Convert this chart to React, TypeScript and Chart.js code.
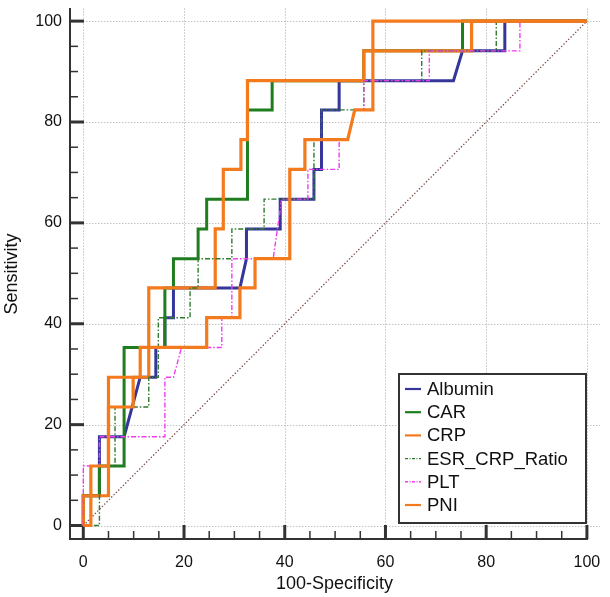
import { useEffect, useRef } from 'react';
import { Chart, registerables } from 'chart.js';

Chart.register(...registerables);

// ROC curves: 100-Specificity (x) against Sensitivity (y)
const seriesNames = ['Albumin', 'CAR', 'CRP', 'ESR_CRP_Ratio', 'PLT', 'PNI'];

const albuminX = [0, 0, 3.2, 3.2, 8.1, 11.3, 14.4, 14.4, 16.2, 16.2, 17.9, 17.9, 31.1, 32.4, 32.4, 39.1, 39.1, 45.8, 45.8, 47.3, 47.3, 50.8, 50.8, 73.5, 75.3, 83.7, 83.7, 100];
const albuminY = [0, 5.9, 5.9, 17.6, 17.6, 29.4, 29.4, 35.3, 35.3, 41.2, 41.2, 47.1, 47.1, 52.9, 58.8, 58.8, 64.7, 64.7, 70.6, 70.6, 82.4, 82.4, 88.2, 88.2, 94.1, 94.1, 100, 100];

const carX = [0, 0, 3.2, 3.2, 8.1, 8.1, 16.2, 16.2, 17.9, 17.9, 22.8, 22.8, 24.5, 24.5, 32.6, 32.6, 37.5, 37.5, 55.7, 55.7, 75.3, 75.3, 100];
const carY = [0, 5.9, 5.9, 11.8, 11.8, 35.3, 35.3, 47.1, 47.1, 52.9, 52.9, 58.8, 58.8, 64.7, 64.7, 82.4, 82.4, 88.2, 88.2, 94.1, 94.1, 100, 100];

const crpX = [0, 0, 5.0, 5.0, 13.0, 13.0, 26.2, 26.2, 27.8, 27.8, 31.3, 31.3, 32.6, 32.6, 55.7, 55.7, 77.1, 77.1, 100];
const crpY = [0, 5.9, 5.9, 29.4, 29.4, 47.1, 47.1, 58.8, 58.8, 70.6, 70.6, 76.5, 76.5, 88.2, 88.2, 94.1, 94.1, 100, 100];

const esrX = [0, 3.2, 3.2, 6.3, 6.3, 13.0, 13.0, 14.9, 14.9, 21.2, 21.2, 22.8, 22.8, 29.5, 29.5, 35.9, 35.9, 45.8, 45.8, 47.3, 47.3, 55.7, 55.7, 67.2, 67.2, 82.0, 82.0, 100];
const esrY = [0, 0, 11.8, 11.8, 23.5, 23.5, 29.4, 29.4, 41.2, 41.2, 47.1, 47.1, 52.9, 52.9, 58.8, 58.8, 64.7, 64.7, 76.5, 76.5, 82.4, 82.4, 88.2, 88.2, 94.1, 94.1, 100, 100];

const pltX = [0, 0, 3.2, 3.2, 16.2, 16.2, 17.9, 19.5, 27.5, 27.5, 29.5, 29.5, 37.7, 39.4, 44.6, 44.6, 50.8, 50.8, 52.5, 53.9, 55.7, 55.7, 68.7, 68.7, 86.7, 86.7, 100];
const pltY = [0, 11.8, 11.8, 17.6, 17.6, 29.4, 29.4, 35.3, 35.3, 41.2, 41.2, 52.9, 52.9, 64.7, 64.7, 70.6, 70.6, 76.5, 76.5, 82.4, 82.4, 88.2, 88.2, 94.1, 94.1, 100, 100];

const pniX = [0, 1.5, 1.5, 5.0, 5.0, 9.9, 9.9, 11.3, 11.3, 24.5, 24.5, 31.1, 31.1, 34.1, 34.1, 41.0, 41.0, 44.0, 44.0, 52.5, 53.9, 57.5, 57.5, 100];
const pniY = [0, 0, 11.8, 11.8, 23.5, 23.5, 29.4, 29.4, 35.3, 35.3, 41.2, 41.2, 47.1, 47.1, 52.9, 52.9, 70.6, 70.6, 76.5, 76.5, 82.4, 82.4, 100, 100];

const majorTicks = [0, 20, 40, 60, 80, 100];
const minorTicks = [5, 10, 15, 25, 30, 35, 45, 50, 55, 65, 70, 75, 85, 90, 95];

const FONT = "'Liberation Sans', Arial, sans-serif";

type Style = { color: string; width: number; dash: number[] };
const styles: Style[] = [
  { color: '#35359a', width: 3, dash: [] },
  { color: '#1f7d1f', width: 3, dash: [] },
  { color: '#f47a1e', width: 3.2, dash: [] },
  { color: '#2f7a2f', width: 1.4, dash: [5, 2, 1.5, 2] },
  { color: '#f03cf0', width: 1.4, dash: [5, 2, 1.5, 2] },
  { color: '#f47a1e', width: 3.2, dash: [] },
];

const xs = [albuminX, carX, crpX, esrX, pltX, pniX];
const ys = [albuminY, carY, crpY, esrY, pltY, pniY];

const toPoints = (xv: number[], yv: number[]) => xv.map((v, i) => ({ x: v, y: yv[i] }));

// Dotted grid, reference diagonal, axis lines and inward tick marks
const rocFrame = {
  id: 'rocFrame',
  beforeDatasetsDraw(chart: any) {
    const { ctx, chartArea: a, scales } = chart;
    const x = scales.x;
    const y = scales.y;
    const x0 = x.getPixelForValue(0);
    const y0 = y.getPixelForValue(0);
    ctx.save();
    ctx.lineWidth = 1;
    ctx.strokeStyle = '#a6a6a6';
    ctx.setLineDash([1, 2]);
    for (const v of majorTicks) {
      const py = Math.round(y.getPixelForValue(v)) + 0.5;
      ctx.beginPath();
      ctx.moveTo(x0, py);
      ctx.lineTo(a.right, py);
      ctx.stroke();
      const px = Math.round(x.getPixelForValue(v)) + 0.5;
      ctx.beginPath();
      ctx.moveTo(px, y0);
      ctx.lineTo(px, a.top);
      ctx.stroke();
    }
    // chance line
    ctx.strokeStyle = '#7a4545';
    ctx.lineWidth = 1.3;
    ctx.setLineDash([1.3, 2]);
    ctx.beginPath();
    ctx.moveTo(x.getPixelForValue(0), y.getPixelForValue(0));
    ctx.lineTo(x.getPixelForValue(100), y.getPixelForValue(100));
    ctx.stroke();

    // axes
    ctx.setLineDash([]);
    ctx.strokeStyle = '#333333';
    ctx.lineWidth = 2;
    ctx.beginPath();
    ctx.moveTo(a.left + 1, a.top);
    ctx.lineTo(a.left + 1, a.bottom - 1);
    ctx.lineTo(x.getPixelForValue(100) + 1, a.bottom - 1);
    ctx.stroke();

    // tick marks pointing into the plot
    const tick = (v: number, len: number, w: number) => {
      ctx.lineWidth = w;
      const px = x.getPixelForValue(v);
      ctx.beginPath();
      ctx.moveTo(px, a.bottom - 1);
      ctx.lineTo(px, a.bottom - 1 - len);
      ctx.stroke();
      const py = y.getPixelForValue(v);
      ctx.beginPath();
      ctx.moveTo(a.left + 1, py);
      ctx.lineTo(a.left + 1 + len, py);
      ctx.stroke();
    };
    for (const v of majorTicks) tick(v, 14, 3);
    for (const v of minorTicks) tick(v, 8, 1.5);
    ctx.restore();
  },
};

// Boxed legend in the lower right of the plot
const legendBox = {
  id: 'legendBox',
  afterDraw(chart: any) {
    const { ctx, chartArea: a } = chart;
    const right = a.right - 14;
    const bottom = a.bottom - 17;
    const w = 187;
    const h = 149;
    const left = right - w;
    const top = bottom - h;
    ctx.save();
    ctx.fillStyle = '#ffffff';
    ctx.fillRect(left, top, w, h);
    ctx.strokeStyle = '#333333';
    ctx.lineWidth = 2;
    ctx.strokeRect(left, top, w, h);
    ctx.font = `18.5px ${FONT}`;
    ctx.textBaseline = 'middle';
    ctx.fillStyle = '#111111';
    seriesNames.forEach((name, i) => {
      const cy = top + 15 + i * 23.2;
      const s = styles[i];
      ctx.strokeStyle = s.color;
      ctx.lineWidth = Math.min(s.width, 2.2);
      ctx.setLineDash(s.dash.length ? [3, 1.5, 1, 1.5] : []);
      ctx.beginPath();
      ctx.moveTo(left + 6, cy);
      ctx.lineTo(left + 22, cy);
      ctx.stroke();
      ctx.setLineDash([]);
      ctx.fillText(name, left + 28, cy + 1);
    });
    ctx.restore();
  },
};

export default function App() {
  const ref = useRef<HTMLCanvasElement>(null);

  useEffect(() => {
    if (!ref.current) return;
    const chart = new Chart(ref.current, {
      type: 'scatter',
      data: {
        datasets: seriesNames.map((name, i) => ({
          label: name,
          data: toPoints(xs[i], ys[i]),
          showLine: true,
          borderColor: styles[i].color,
          borderWidth: styles[i].width,
          borderDash: styles[i].dash,
          pointRadius: 0,
          pointHoverRadius: 0,
          tension: 0,
          fill: false,
          order: seriesNames.length - i,
          borderCapStyle: 'butt',
          borderJoinStyle: 'miter',
        })),
      },
      options: {
        responsive: false,
        animation: false,
        layout: { padding: { top: 8, right: 10, left: 0, bottom: 0 } },
        plugins: { legend: { display: false }, tooltip: { enabled: false } },
        scales: {
          x: {
            type: 'linear',
            min: -2.84,
            max: 102.6,
            afterFit: (s: any) => { s.height = 57; s.paddingLeft = 0; s.paddingRight = 0; },
            afterBuildTicks: (s: any) => { s.ticks = majorTicks.map((v) => ({ value: v })); },
            grid: { display: false, drawTicks: false },
            border: { display: false },
            ticks: { padding: 13, color: '#111', font: { family: FONT, size: 16 }, callback: (v: any) => String(v) },
            title: { display: true, text: '100-Specificity', color: '#111', font: { family: FONT, size: 18 }, padding: { top: 0, bottom: 2 } },
          },
          y: {
            type: 'linear',
            min: -2.87,
            max: 102.6,
            afterFit: (s: any) => { s.width = 69; s.paddingTop = 0; s.paddingBottom = 0; },
            afterBuildTicks: (s: any) => { s.ticks = majorTicks.map((v) => ({ value: v })); },
            grid: { display: false, drawTicks: false },
            border: { display: false },
            ticks: { padding: 7, color: '#111', font: { family: FONT, size: 16 }, callback: (v: any) => String(v) },
            title: { display: true, text: 'Sensitivity', color: '#111', font: { family: FONT, size: 18 }, padding: { top: 1, bottom: 0 } },
          },
        },
      },
      plugins: [rocFrame, legendBox],
    } as any);
    return () => chart.destroy();
  }, []);

  return (
    <div style={{ position: 'fixed', left: 0, top: 0, width: 610, height: 597, background: '#fff' }}>
      <canvas ref={ref} width={610} height={597} />
    </div>
  );
}
